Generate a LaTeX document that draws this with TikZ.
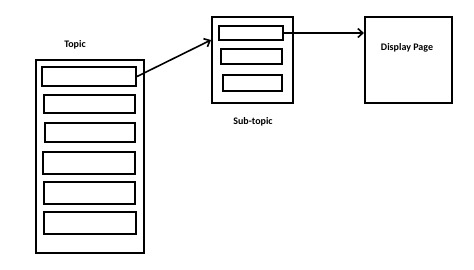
\documentclass[tikz,border=0pt]{standalone}
\usepackage{fontspec}
\setmainfont{Carlito}
\usepackage{tikz}
\usetikzlibrary{positioning,arrows.meta,calc}

\begin{document}
\begin{tikzpicture}[x=1pt, y=-1pt,
  box/.style={draw, line width=2pt, rectangle, inner sep=0pt},
  lbl/.style={font=\fontsize{10}{11}\selectfont\bfseries},
  link/.style={line width=1.6pt, -{Straight Barb[length=5pt,width=9pt]}}]
  \useasboundingbox (0,0) rectangle (474,269);
  % topic column
  \node[box, minimum width=108pt, minimum height=193pt] (topic) at (90,156.5) {};
  \node[lbl] (topiclbl) at (75,45) {Topic};
  \node[box, minimum width=94pt, minimum height=19pt] (t1) at (89,76.5) {};
  \node[box, minimum width=91pt, minimum height=18pt] (t2) at (89.5,104) {};
  \node[box, minimum width=90pt, minimum height=19pt] (t3) at (90,132.5) {};
  \node[box, minimum width=92pt, minimum height=22pt] (t4) at (89,163) {};
  \node[box, minimum width=91pt, minimum height=22pt] (t5) at (89.5,193) {};
  \node[box, minimum width=92pt, minimum height=22pt] (t6) at (90,223) {};
  % sub-topic
  \node[box, minimum width=81pt, minimum height=86pt] (sub) at (252.5,60) {};
  \node[lbl] (sublbl) at (253,122) {Sub-topic};
  \node[box, minimum width=64pt, minimum height=14pt] (s1) at (251,33) {};
  \node[box, minimum width=61pt, minimum height=15pt] (s2) at (251.5,56.5) {};
  \node[box, minimum width=59pt, minimum height=16pt] (s3) at (252.5,83) {};
  % display page
  \node[box, minimum width=87pt, minimum height=86pt] (disp) at (408.5,60) {};
  \node[lbl] (displbl) at (407,48) {Display Page};
  \draw[link] (t1.east) -- ([yshift=20pt]sub.west);
  \draw[link] (s1.east) -- (disp.west |- s1.east);
\end{tikzpicture}
\end{document}
